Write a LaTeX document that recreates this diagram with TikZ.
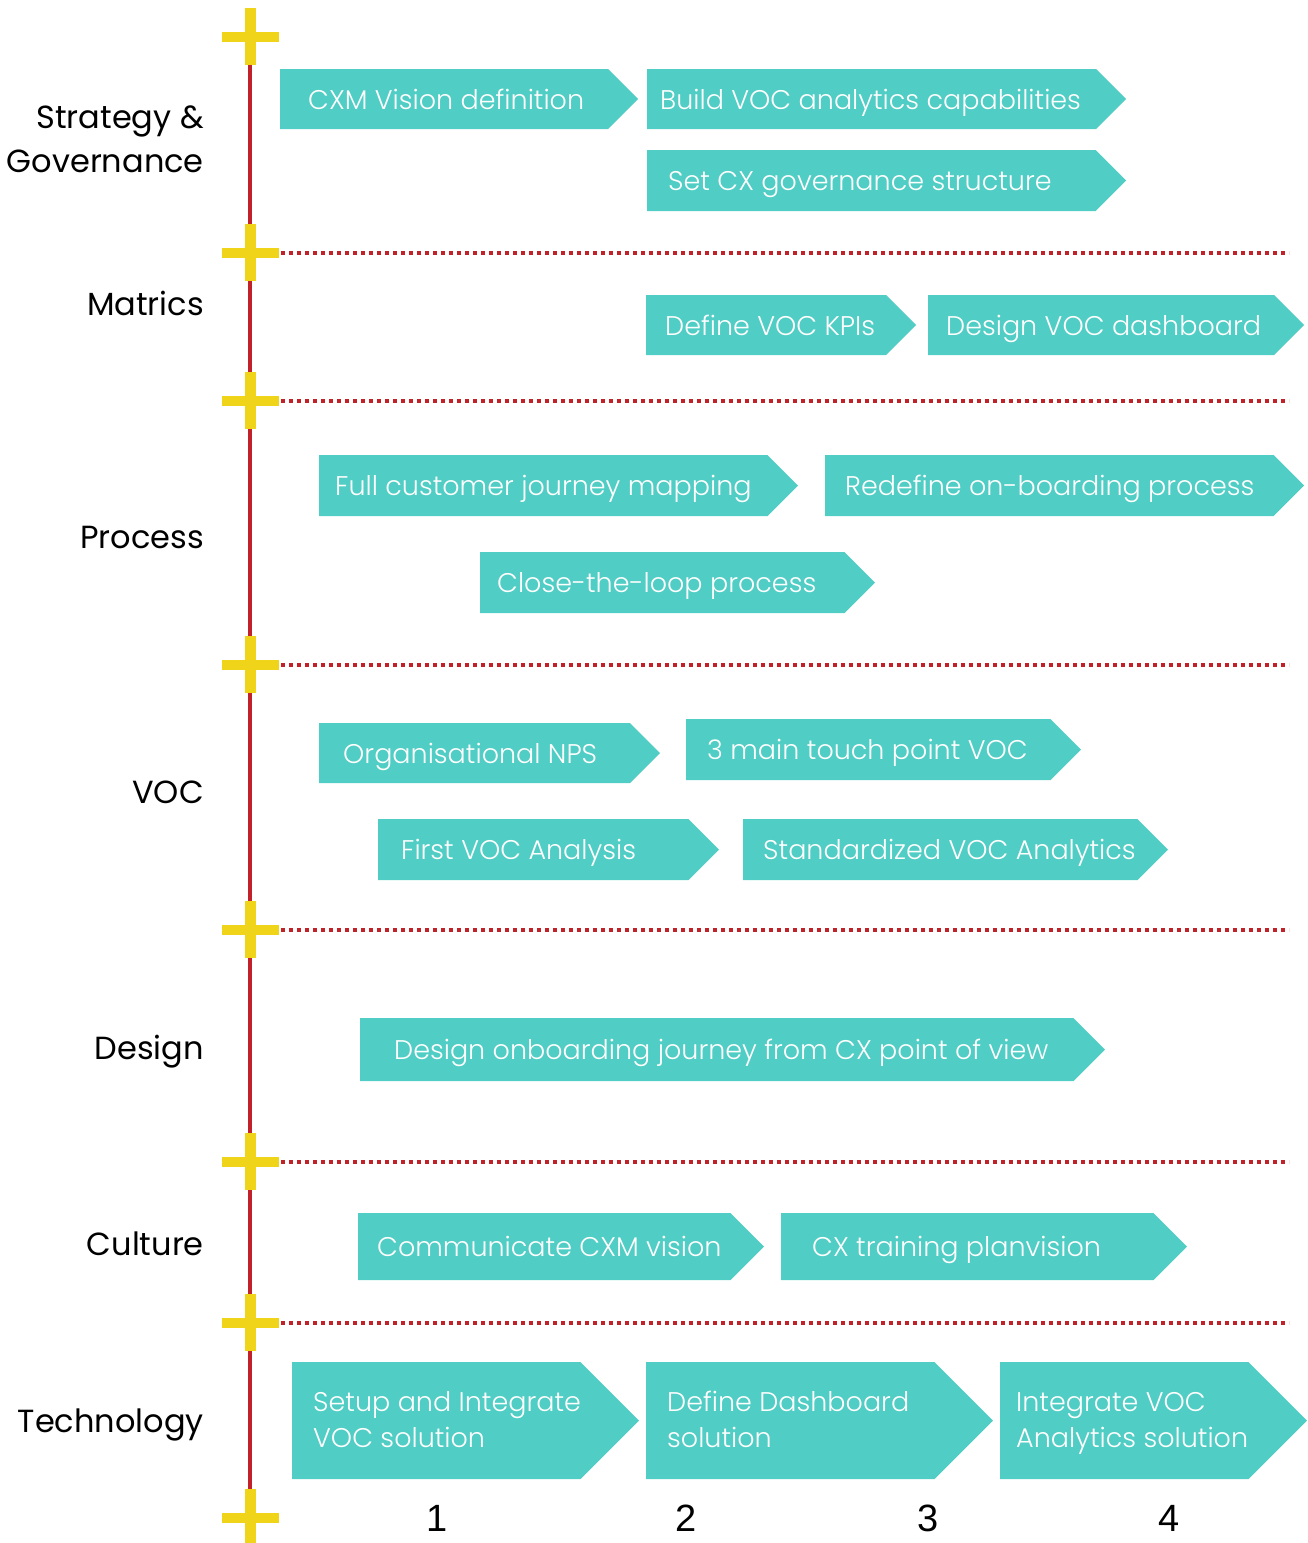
\documentclass[tikz,border=0pt]{standalone}
\usepackage{fontspec}
\setmainfont{Poppins}
\IfFontExistsTF{Poppins Light}{\newfontfamily\barfont{Poppins Light}}{\newfontfamily\barfont{Poppins}}
\newfontfamily\numfont{Liberation Sans}
\definecolor{tealbox}{RGB}{80,205,196}
\definecolor{axisred}{RGB}{193,33,40}
\definecolor{plusyellow}{RGB}{240,212,25}
\newcommand\stepbar[7]{%
  \fill[tealbox] (#2,#4) -- ({#3-(#5-#4)/2},#4) -- (#3,{(#4+#5)/2}) -- ({#3-(#5-#4)/2},#5) -- (#2,#5) -- cycle;
  \node[bartext] (#1) at (#6,{(#4+#5)/2+10}) {#7};
}
\newcommand\stepbarII[7]{%
  \fill[tealbox] (#2,#4) -- ({#3-(#5-#4)/2},#4) -- (#3,{(#4+#5)/2}) -- ({#3-(#5-#4)/2},#5) -- (#2,#5) -- cycle;
  \node[bartextII] (#1) at (#6,1447) {#7};
}
\newcommand\plusmark[2]{%
  \coordinate (#1) at (250,#2);
  \fill[plusyellow] (244.5,#2-29) rectangle (255.5,#2+28);
  \fill[plusyellow] (222,#2-5) rectangle (279,#2+5);
}
\begin{document}
\begin{tikzpicture}[x=1pt,y=-1pt,
  bartext/.style={anchor=base west,inner sep=0pt,text=white,font=\barfont\fontsize{27}{34}\selectfont},
  bartextII/.style={anchor=base west,inner sep=0pt,text=white,align=left,font=\barfont\fontsize{27}{36}\selectfont},
  rowlabel/.style={anchor=base east,inner sep=0pt,text=black,font=\fontsize{32}{44}\selectfont},
  numlabel/.style={anchor=base,inner sep=0pt,text=black,font=\numfont\fontsize{38}{44}\selectfont},
  axisline/.style={draw=axisred,line width=4.5pt},
  dotline/.style={draw=axisred,line width=3.8pt,dash pattern=on 4pt off 4pt}]
\useasboundingbox (0,0) rectangle (1308,1543);
% axis
\coordinate (top) at (250,37);
\coordinate (bot) at (250,1518);
\draw[axisline] (top) -- (bot);
% separators
\foreach \n/\y in {2/253,3/401,4/665,5/930,6/1162,7/1323}{
  \coordinate (s\n) at (281,\y);
  \coordinate (e\n) at (1289,\y);
  \draw[dotline] (s\n) -- (e\n);
}
% plus marks
\plusmark{p1}{37}
\plusmark{p2}{253}
\plusmark{p3}{401}
\plusmark{p4}{665}
\plusmark{p5}{930}
\plusmark{p6}{1162}
\plusmark{p7}{1323}
\plusmark{p8}{1518}
% row labels
\node[rowlabel,anchor=east,align=right] (lstrat) at (204,139) {Strategy \&\\Governance};
\node[rowlabel] (lmat) at (204,315) {Matrics};
\node[rowlabel] (lproc) at (204,548) {Process};
\node[rowlabel] (lvoc) at (204,803) {VOC};
\node[rowlabel] (ldes) at (204,1059) {Design};
\node[rowlabel] (lcul) at (204,1255) {Culture};
\node[rowlabel] (ltech) at (204,1432) {Technology};
% bars
\stepbar{cxm}{280}{638}{69}{129}{308}{CXM Vision definition}
\stepbar{build}{647}{1126}{69}{129}{660}{Build VOC analytics capabilities}
\stepbar{gov}{647}{1126}{150}{211}{668}{Set CX governance structure}
\stepbar{kpi}{646}{916}{295}{355}{665}{Define VOC KPIs}
\stepbar{dash}{928}{1304}{295}{355}{946}{Design VOC dashboard}
\stepbar{fcj}{319}{798}{455}{516}{335}{Full customer journey mapping}
\stepbar{onb}{825}{1304}{455}{516}{845}{Redefine on-boarding process}
\stepbar{ctl}{480}{875}{552}{613}{497}{Close-the-loop process}
\stepbar{nps}{319}{660}{723}{783}{343}{Organisational NPS}
\stepbar{tp}{686}{1081}{719}{780}{707}{3 main touch point VOC}
\stepbar{fva}{378}{719}{819}{880}{401}{First VOC Analysis}
\stepbar{sva}{743}{1168}{819}{880}{763}{Standardized VOC Analytics}
\stepbar{dj}{360}{1105}{1018}{1081}{394}{Design onboarding journey from CX point of view}
\stepbar{ccv}{358}{764}{1213}{1280}{377}{Communicate CXM vision}
\stepbar{ctp}{781}{1187}{1213}{1280}{812}{CX training planvision}
\stepbarII{sivs}{292}{639}{1362}{1479}{313}{Setup and Integrate\\VOC solution}
\stepbarII{dds}{646}{993}{1362}{1479}{667}{Define Dashboard\\solution}
\stepbarII{iva}{1000}{1307}{1362}{1479}{1016}{Integrate VOC\\Analytics solution}
% numbers
\node[numlabel] (n1) at (437,1531) {1};
\node[numlabel] (n2) at (686,1531) {2};
\node[numlabel] (n3) at (928,1531) {3};
\node[numlabel] (n4) at (1169,1531) {4};
\end{tikzpicture}
\end{document}
